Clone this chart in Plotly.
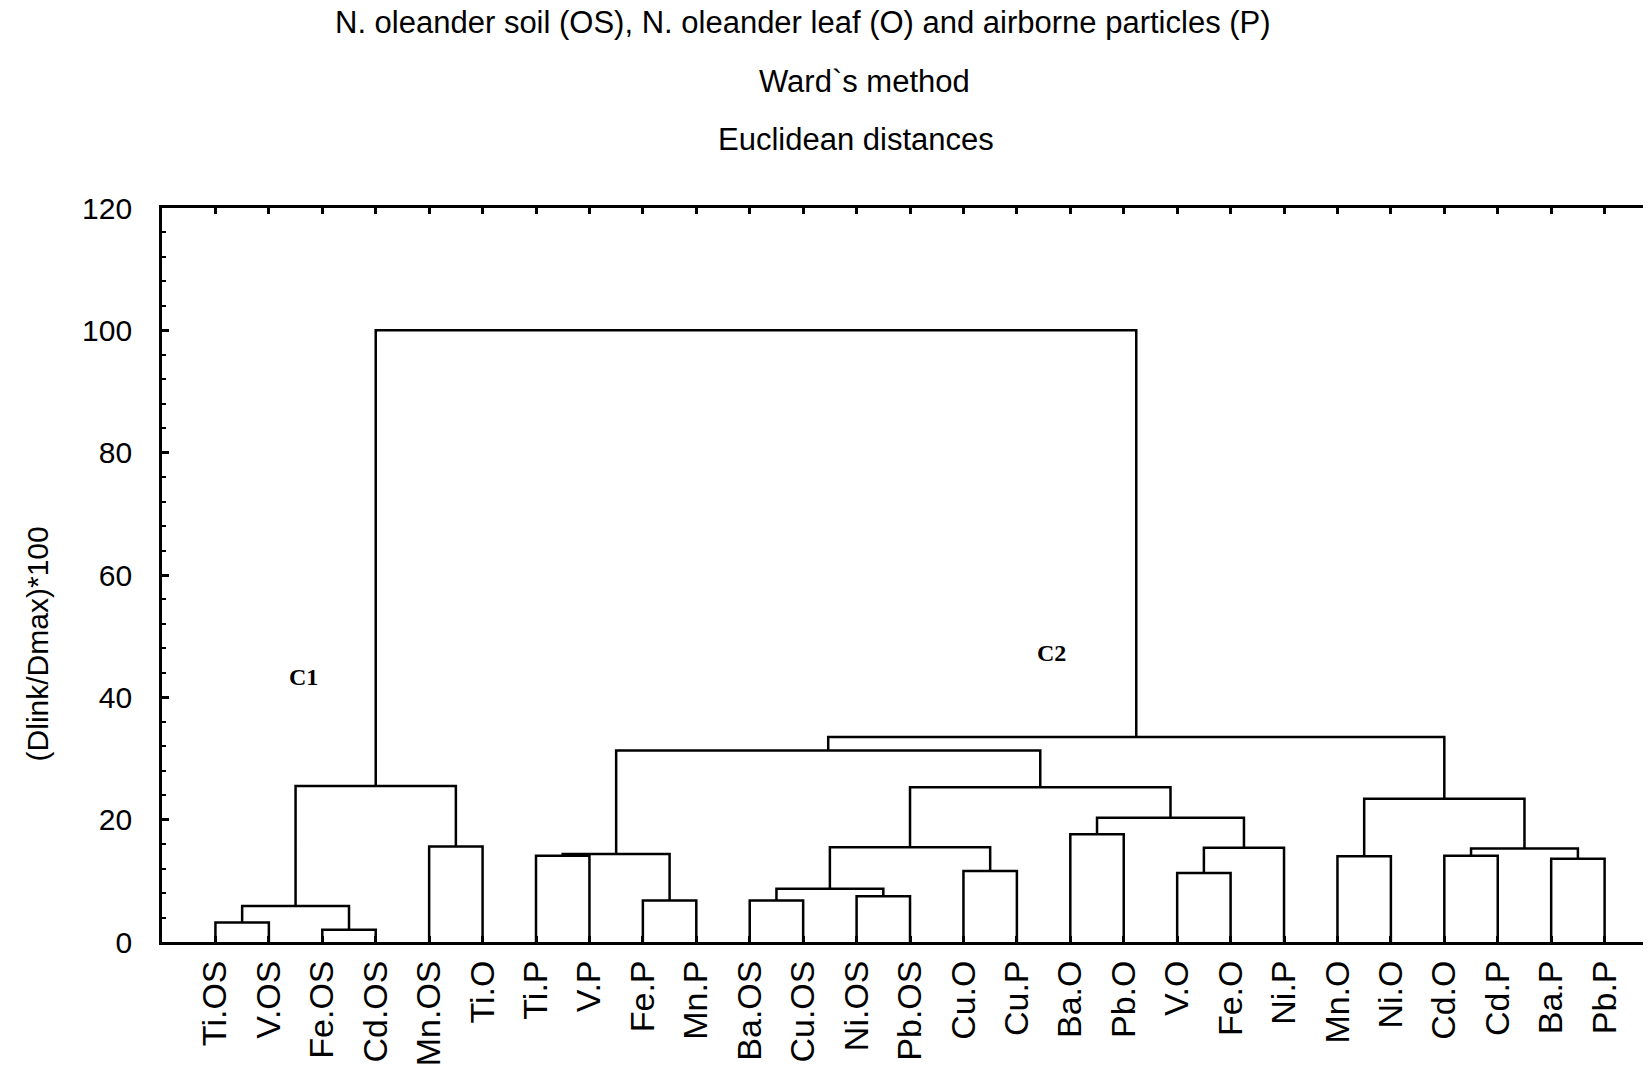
import plotly.graph_objects as go

# ---- data ----
leaves = ["Ti.OS", "V.OS", "Fe.OS", "Cd.OS", "Mn.OS", "Ti.O", "Ti.P", "V.P", "Fe.P", "Mn.P",
          "Ba.OS", "Cu.OS", "Ni.OS", "Pb.OS", "Cu.O", "Cu.P", "Ba.O", "Pb.O", "V.O", "Fe.O",
          "Ni.P", "Mn.O", "Ni.O", "Cd.O", "Cd.P", "Ba.P", "Pb.P"]
# children: leaf name or "m<k>" for an earlier merge
merge_left = ["Ti.OS", "Fe.OS", "m0", "Mn.OS", "m2", "Ti.P", "Fe.P", "m5", "Ba.OS", "Ni.OS",
              "m8", "Cu.O", "m10", "Ba.O", "V.O", "m14", "m13", "m12", "m7", "Mn.O",
              "Cd.O", "Ba.P", "m20", "m19", "m18", "m4"]
merge_right = ["V.OS", "Cd.OS", "m1", "Ti.O", "m3", "V.P", "Mn.P", "m6", "Cu.OS", "Pb.OS",
               "m9", "Cu.P", "m11", "Pb.O", "Fe.O", "Ni.P", "m15", "m16", "m17", "Ni.O",
               "Cd.P", "Pb.P", "m21", "m22", "m23", "m24"]
merge_height = [3.2, 2.0, 5.9, 15.6, 25.5, 14.1, 6.8, 14.4, 6.8, 7.5,
                8.7, 11.6, 15.5, 17.6, 11.3, 15.4, 20.3, 25.3, 31.3, 14.0,
                14.1, 13.6, 15.3, 23.4, 33.5, 100.0]
cluster_labels = ["C1", "C2"]
cluster_x = [2.64, 16.65]
cluster_y = [43.3, 47.2]
y_ticks = [0, 20, 40, 60, 80, 100, 120]

# ---- geometry from data ----
leaf_pos = {name: i + 1 for i, name in enumerate(leaves)}
node_x, node_y = {}, {}
for n in leaves:
    node_x[n] = leaf_pos[n]
    node_y[n] = 0.0
xs, ys = [], []
for k, (a, b, h) in enumerate(zip(merge_left, merge_right, merge_height)):
    xa, ya, xb, yb = node_x[a], node_y[a], node_x[b], node_y[b]
    xs += [xa, xa, xb, xb, None]
    ys += [ya, h, h, yb, None]
    node_x["m%d" % k] = (xa + xb) / 2
    node_y["m%d" % k] = h

# page has an 8px body margin; figure coordinates = screen coordinates - 8
OFF = 8
W, H = 1651 - 2 * OFF, 1077 - 2 * OFF
L, T = 162 - OFF, 207.5 - OFF
B = H - (941.7 - OFF)
plot_h = H - T - B

fig = go.Figure()
fig.add_trace(go.Scatter(x=xs, y=ys, mode="lines",
                         line=dict(color="black", width=2.5), hoverinfo="skip",
                         showlegend=False, cliponaxis=False))

FONT = "Liberation Sans, Arial, sans-serif"

fig.update_layout(
    width=W, height=H,
    margin=dict(l=L, r=0, t=T, b=B, pad=0, autoexpand=False),
    paper_bgcolor="white", plot_bgcolor="white",
    font=dict(family=FONT, color="black"),
    showlegend=False,
    xaxis=dict(range=[0, (W - L) / 53.43], tickmode="array", automargin=False,
               tickvals=[leaf_pos[n] for n in leaves], ticktext=leaves,
               tickangle=-90, tickfont=dict(size=34, family=FONT, color="black"),
               ticks="inside", ticklen=6, tickwidth=2.5, tickcolor="black",
               showline=True, linecolor="black", linewidth=2.8, mirror="ticks",
               showgrid=False, zeroline=False, ticklabelstandoff=2),
    yaxis=dict(range=[0, 120], tickmode="array", tickvals=y_ticks, automargin=False,
               tickfont=dict(size=30, family=FONT, color="black"),
               ticks="inside", ticklen=7, tickwidth=2.5, tickcolor="black",
               minor=dict(dtick=4, ticks="inside", ticklen=4.5, tickwidth=2.2,
                          tickcolor="black", showgrid=False),
               showline=True, linecolor="black", linewidth=2.8, mirror=False,
               showgrid=False, zeroline=False, ticklabelstandoff=21),
)

def py(px):
    return (H - B - px) / plot_h

def pxx(px):
    return (px - L) / (W - L)

titles = [("N. oleander soil (OS), N. oleander leaf (O) and airborne particles (P)", 795, 14),
          ("Ward`s method", 856, 73),
          ("Euclidean distances", 848, 131)]
for txt, cx, cy in titles:
    fig.add_annotation(text=txt, x=pxx(cx), y=py(cy), xref="paper", yref="paper",
                       xanchor="center", yanchor="middle", showarrow=False,
                       font=dict(size=31, family=FONT, color="black"))

fig.add_annotation(text="(Dlink/Dmax)*100", x=pxx(29), y=py(636), xref="paper", yref="paper",
                   xanchor="center", yanchor="middle", textangle=-90, showarrow=False,
                   font=dict(size=30, family=FONT, color="black"))

for lab, cx, cy in zip(cluster_labels, cluster_x, cluster_y):
    fig.add_annotation(text="<b>%s</b>" % lab, x=cx, y=cy, xref="x", yref="y",
                       xanchor="center", yanchor="middle", showarrow=False,
                       font=dict(size=24, family="Liberation Serif, Times New Roman, serif",
                                 color="black"))

fig.write_html("out.html")
